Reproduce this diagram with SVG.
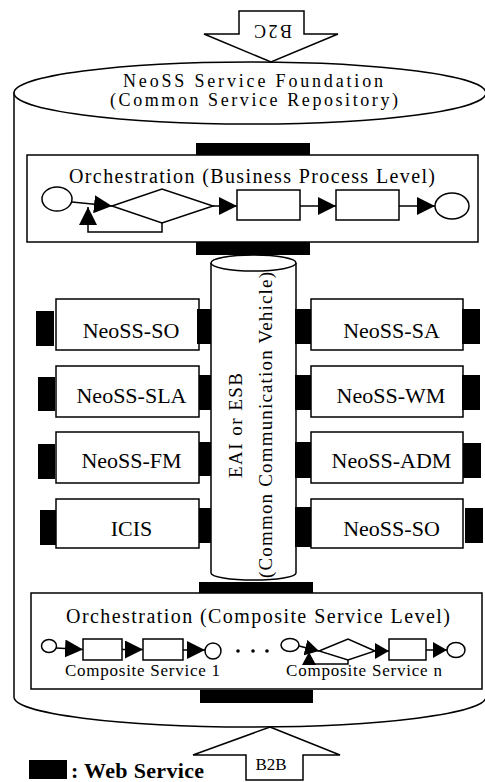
<svg xmlns="http://www.w3.org/2000/svg" width="485" height="782" viewBox="0 0 485 782">
<style>
.o{fill:#fff;stroke:#000;stroke-width:1.5}
.n{fill:none;stroke:#000;stroke-width:1.5}
.b{fill:#000}
.t{font-family:"Liberation Serif","Times New Roman",serif;fill:#000}
.m{font-size:22px;text-anchor:middle}
</style>
<defs>
<marker id="ah" markerUnits="userSpaceOnUse" markerWidth="18" markerHeight="18" refX="18" refY="9" orient="auto" viewBox="0 0 18 18"><path d="M0,0 L18,9 L0,18 z" fill="#000"/></marker>
<marker id="ahs" markerUnits="userSpaceOnUse" markerWidth="14" markerHeight="16" refX="14" refY="8" orient="auto" viewBox="0 0 14 16"><path d="M0,0 L14,8 L0,16 z" fill="#000"/></marker>
</defs>

<g id="foundation">
<path class="o" d="M14,93 L14,697 A236,30 0 0 0 486,697 L486,93 Z"/>
<ellipse class="o" cx="250" cy="93" rx="236" ry="31"/>
<text class="t" x="253" y="87" font-size="18" text-anchor="middle" textLength="260" lengthAdjust="spacing">NeoSS Service Foundation</text>
<text class="t" x="254" y="106" font-size="18" text-anchor="middle" textLength="288" lengthAdjust="spacing">(Common Service Repository)</text>
</g>

<g id="b2c">
<polygon class="o" points="239,11 304,11 304,34 338,34 271,62 204,34 239,34"/>
<text class="t" transform="translate(273,25) rotate(180)" font-size="18" text-anchor="middle" textLength="38" lengthAdjust="spacing">B2C</text>
</g>

<g id="b2b">
<polygon class="o" points="270,727 340,755 303,755 303,780 246,780 246,755 193,755"/>
<text class="t" x="271" y="770" font-size="17" text-anchor="middle">B2B</text>
</g>

<g id="bp-orchestration">
<rect class="b" x="196" y="143" width="114" height="12"/>
<rect class="b" x="196" y="242" width="114" height="13"/>
<rect class="o" x="27" y="155" width="451" height="87"/>
<text class="t" x="252" y="183" font-size="20" text-anchor="middle" textLength="366" lengthAdjust="spacing">Orchestration (Business Process Level)</text>
<ellipse class="o" cx="57" cy="199" rx="15" ry="12"/>
<polygon class="o" points="112,206 162,189 213,206 162,223"/>
<rect class="o" x="237" y="190" width="63" height="30"/>
<rect class="o" x="336" y="190" width="63" height="30"/>
<ellipse class="o" cx="452" cy="206" rx="17" ry="13"/>
</g>

<g id="eai-esb">
<path class="o" d="M211,263 L211,573 A42.5,7 0 0 0 296,573 L296,263"/>
<ellipse class="o" cx="253.5" cy="263" rx="42.5" ry="8"/>
<text class="t" transform="translate(242,425.5) rotate(-90)" font-size="19" text-anchor="middle" textLength="105" lengthAdjust="spacing">EAI or ESB</text>
<text class="t" transform="translate(272,425) rotate(-90)" font-size="19" text-anchor="middle" textLength="306" lengthAdjust="spacing">(Common Communication Vehicle)</text>
</g>

<g id="neoss-so-left">
<rect class="b" x="36" y="311" width="18" height="35"/>
<rect class="o" x="56" y="299" width="143" height="51"/>
<rect class="b" x="197" y="309" width="14" height="35"/>
<text class="t m" x="131" y="338">NeoSS-SO</text>
</g>
<g id="neoss-sla">
<rect class="b" x="38" y="377" width="17" height="34"/>
<rect class="o" x="56" y="366" width="143" height="51"/>
<rect class="b" x="199" y="375" width="12" height="35"/>
<text class="t m" x="131.5" y="403">NeoSS-SLA</text>
</g>
<g id="neoss-fm">
<rect class="b" x="38" y="444" width="17" height="35"/>
<rect class="o" x="56" y="432" width="143" height="51"/>
<rect class="b" x="199" y="442" width="12" height="34"/>
<text class="t m" x="131.5" y="468">NeoSS-FM</text>
</g>
<g id="icis">
<rect class="b" x="40" y="510" width="16" height="35"/>
<rect class="o" x="56" y="499" width="143" height="49"/>
<rect class="b" x="199" y="508" width="12" height="35"/>
<text class="t m" x="131.5" y="536">ICIS</text>
</g>

<g id="neoss-sa">
<rect class="b" x="295" y="309" width="16" height="35"/>
<rect class="o" x="311" y="299" width="152" height="51"/>
<rect class="b" x="462" y="309" width="18" height="35"/>
<text class="t m" x="391.5" y="338">NeoSS-SA</text>
</g>
<g id="neoss-wm">
<rect class="b" x="295" y="375" width="16" height="35"/>
<rect class="o" x="311" y="366" width="152" height="51"/>
<rect class="b" x="462" y="375" width="18" height="35"/>
<text class="t m" x="391" y="403">NeoSS-WM</text>
</g>
<g id="neoss-adm">
<rect class="b" x="295" y="442" width="17" height="36"/>
<rect class="o" x="311" y="432" width="152" height="51"/>
<rect class="b" x="463" y="443" width="18" height="35"/>
<text class="t m" x="391.5" y="468">NeoSS-ADM</text>
</g>
<g id="neoss-so-right">
<rect class="b" x="295" y="507" width="18" height="40"/>
<rect class="o" x="311" y="499" width="152" height="49"/>
<rect class="b" x="465" y="508" width="18" height="35"/>
<text class="t m" x="391.5" y="536">NeoSS-SO</text>
</g>

<g id="cs-orchestration">
<rect class="b" x="199" y="582" width="114" height="11"/>
<rect class="b" x="200" y="690" width="113" height="13"/>
<rect class="o" x="31" y="593" width="451" height="96"/>
<text class="t" x="258" y="623" font-size="20" text-anchor="middle" textLength="384" lengthAdjust="spacing">Orchestration (Composite Service Level)</text>
<ellipse class="o" cx="49" cy="646" rx="7.5" ry="6.5"/>
<rect class="o" x="83" y="639" width="39" height="21"/>
<rect class="o" x="143" y="639" width="40" height="21"/>
<ellipse class="o" cx="213" cy="651" rx="8" ry="8"/>
<circle class="b" cx="238" cy="651" r="1.8"/>
<circle class="b" cx="253" cy="651" r="1.8"/>
<circle class="b" cx="267" cy="651" r="1.8"/>
<ellipse class="o" cx="290" cy="645" rx="9" ry="6.5"/>
<polygon class="o" points="319,651 348,639 375,651 348,660"/>
<rect class="o" x="389" y="639" width="37" height="21"/>
<ellipse class="o" cx="456" cy="650" rx="9" ry="7.5"/>
<text class="t" x="142.5" y="676" font-size="17" text-anchor="middle" textLength="155" lengthAdjust="spacing">Composite Service 1</text>
<text class="t" x="364" y="676" font-size="17" text-anchor="middle" textLength="156" lengthAdjust="spacing">Composite Service n</text>
</g>

<g id="connectors">
<line class="n" x1="72" y1="202" x2="112" y2="206" marker-end="url(#ah)"/>
<polyline class="n" points="162,223 162,232 88,232 88,207" marker-end="url(#ah)"/>
<line class="n" x1="213" y1="206" x2="237" y2="206" marker-end="url(#ah)"/>
<line class="n" x1="300" y1="206" x2="336" y2="206" marker-end="url(#ah)"/>
<line class="n" x1="399" y1="206" x2="435" y2="206" marker-end="url(#ah)"/>
<line class="n" x1="56" y1="648" x2="83" y2="649.5" marker-end="url(#ah)"/>
<line class="n" x1="122" y1="649.5" x2="143" y2="649.5" marker-end="url(#ah)"/>
<line class="n" x1="183" y1="650" x2="205" y2="650" marker-end="url(#ah)"/>
<line class="n" x1="299" y1="646" x2="319" y2="651" marker-end="url(#ahs)"/>
<polyline class="n" points="348,660 348,664 309,664"/>
<polygon class="b" points="302,665 316,665 309,652"/>
<line class="n" x1="375" y1="651" x2="389" y2="651" marker-end="url(#ahs)"/>
<line class="n" x1="426" y1="650" x2="447" y2="650" marker-end="url(#ahs)"/>
</g>

<g id="legend">
<rect class="b" x="29" y="760" width="38" height="19"/>
<text class="t" x="71" y="778" font-size="22" font-weight="bold" textLength="133" lengthAdjust="spacing">: Web Service</text>
</g>
</svg>
